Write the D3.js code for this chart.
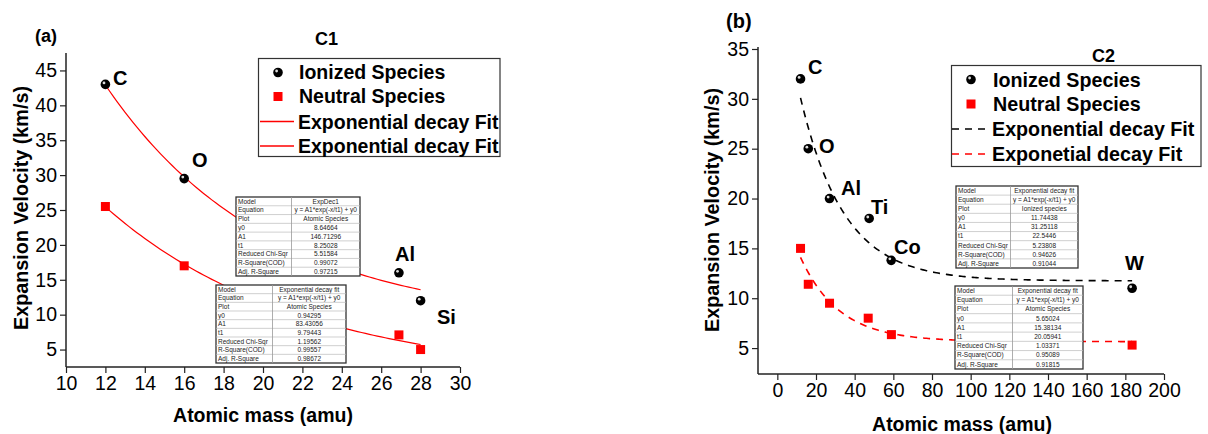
<!DOCTYPE html>
<html>
<head>
<meta charset="utf-8">
<script src="https://cdn.jsdelivr.net/npm/d3@7"></script>
<style>
body { margin: 0; background: #fff; }
svg { font-family: "Liberation Sans", Arial, sans-serif; }
</style>
</head>
<body>
<svg id="chart" width="1208" height="434"></svg>
<script>
// ---- data ----
var c1Ionized = [
    { name: "C", mass: 12, v: 43 },
    { name: "O", mass: 16, v: 29.5 },
    { name: "Al", mass: 26.9, v: 16 },
    { name: "Si", mass: 28, v: 12 }
];
var c1Neutral = [
    { mass: 12, v: 25.5 },
    { mass: 16, v: 17 },
    { mass: 26.9, v: 7.1 },
    { mass: 28, v: 5 }
];
var c2Ionized = [
    { name: "C", mass: 12, v: 32 },
    { name: "O", mass: 16, v: 25 },
    { name: "Al", mass: 27, v: 20 },
    { name: "Ti", mass: 47.5, v: 18 },
    { name: "Co", mass: 58.9, v: 13.8 },
    { name: "W", mass: 183.5, v: 11 }
];
var c2Neutral = [
    { mass: 12, v: 15 },
    { mass: 16, v: 11.4 },
    { mass: 27, v: 9.5 },
    { mass: 47, v: 8 },
    { mass: 59, v: 6.35 },
    { mass: 183.5, v: 5.3 }
];

// fit parameters [y0, A1, t1] as printed in the tables
var c1IonFit = [8.64664, 146.71296, 8.25028];
var c1NeuFit = [0.94295, 83.43056, 9.79443];
var c2IonFit = [11.74438, 31.25118, 22.5446];
var c2NeuFit = [5.65024, 15.38134, 20.05941];

var eqText = "y = A1*exp(-x/t1) + y0";
var rowNames = ["Model", "Equation", "Plot", "y0", "A1", "t1", "Reduced Chi-Sqr", "R-Square(COD)", "Adj. R-Square"];
var table1a = ["ExpDec1", eqText, "Atomic Species", "8.64664", "146.71296", "8.25028", "5.51584", "0.99072", "0.97215"];
var table1b = ["Exponential decay fit", eqText, "Atomic Species", "0.94295", "83.43056", "9.79443", "1.19562", "0.99557", "0.98672"];
var table2a = ["Exponential decay fit", eqText, "Ionized species", "11.74438", "31.25118", "22.5446", "5.23808", "0.94626", "0.91044"];
var table2b = ["Exponential decay fit", eqText, "Atomic Species", "5.65024", "15.38134", "20.05941", "1.03371", "0.95089", "0.91815"];

var svg = d3.select("#chart");
var axisColor = "#222";

function expDec(p) {
    return function (x) { return p[0] + p[1] * Math.exp(-x / p[2]); };
}

function drawAxes(g, x, y, xMajor, xMinor, yMajor, yMinor) {
    var xr = x.range(), yr = y.range();
    var ax = g.append("g").attr("transform", "translate(0," + yr[0] + ")");
    ax.call(d3.axisBottom(x).tickValues(xMinor).tickSize(3).tickFormat(""));
    ax.call(d3.axisBottom(x).tickValues(xMajor).tickSize(6).tickSizeOuter(0).tickPadding(3));
    var ay = g.append("g").attr("transform", "translate(" + xr[0] + ",0)");
    ay.call(d3.axisLeft(y).tickValues(yMinor).tickSize(3).tickFormat(""));
    ay.call(d3.axisLeft(y).tickValues(yMajor).tickSize(6).tickSizeOuter(0).tickPadding(3));
    g.selectAll(".domain").remove();
    g.selectAll(".tick line").attr("stroke", axisColor).attr("stroke-width", 1.2);
    g.selectAll(".tick text").attr("font-size", 19.5).attr("fill", "#000")
        .attr("font-family", "Liberation Sans, Arial, sans-serif");
    g.append("line").attr("x1", xr[0]).attr("x2", xr[1]).attr("y1", yr[0]).attr("y2", yr[0])
        .attr("stroke", axisColor).attr("stroke-width", 1.5);
    g.append("line").attr("x1", xr[0]).attr("x2", xr[0]).attr("y1", yr[0]).attr("y2", yr[1])
        .attr("stroke", axisColor).attr("stroke-width", 1.5);
}

function ball(g, cx, cy) {
    g.append("circle").attr("cx", cx).attr("cy", cy).attr("r", 4.8).attr("fill", "#000");
    g.append("circle").attr("cx", cx - 1.4).attr("cy", cy - 1.5).attr("r", 1.4).attr("fill", "#ddd");
}

function square(g, cx, cy) {
    g.append("rect").attr("x", cx - 4.5).attr("y", cy - 4.5).attr("width", 9).attr("height", 9).attr("fill", "#f00");
}

function drawTable(g, x0, y0, w, h, split, values) {
    var rh = h / rowNames.length;
    var t = g.append("g");
    t.append("rect").attr("x", x0).attr("y", y0).attr("width", w).attr("height", h)
        .attr("fill", "#fff").attr("stroke", "#333").attr("stroke-width", 1.3);
    rowNames.forEach(function (n, i) {
        if (i > 0) {
            t.append("line").attr("x1", x0).attr("x2", x0 + w)
                .attr("y1", y0 + i * rh).attr("y2", y0 + i * rh)
                .attr("stroke", "#bbb").attr("stroke-width", 0.7);
        }
        t.append("text").attr("x", x0 + 2).attr("y", y0 + i * rh + rh / 2 + 2.3)
            .attr("font-size", 6.5).attr("fill", "#222").text(n);
        t.append("text").attr("x", split + (x0 + w - split) / 2)
            .attr("y", y0 + i * rh + rh / 2 + 2.3)
            .attr("text-anchor", "middle").attr("font-size", 6.5).attr("fill", "#222").text(values[i]);
    });
    t.append("line").attr("x1", split).attr("x2", split).attr("y1", y0).attr("y2", y0 + h)
        .attr("stroke", "#999").attr("stroke-width", 0.8);
}

function boldText(g, x, y, txt, size, anchor) {
    return g.append("text").attr("x", x).attr("y", y).attr("font-size", size)
        .attr("font-weight", "bold").attr("text-anchor", anchor || "start").attr("fill", "#000").text(txt);
}

// ================= panel (a) =================
var ga = svg.append("g");
var xa = d3.scaleLinear().domain([10, 30]).range([66, 460]);
var ya = d3.scaleLinear().domain([2.5, 47.5]).range([367, 53]);
drawAxes(ga, xa, ya, d3.range(10, 31, 2), d3.range(10, 31, 1), d3.range(5, 46, 5), d3.range(2.5, 48, 2.5));

var lineA = function (p, lo, hi) {
    var f = expDec(p);
    var xs = d3.range(lo, hi + 0.001, (hi - lo) / 80);
    return d3.line().x(function (d) { return xa(d); }).y(function (d) { return ya(f(d)); })(xs);
};
ga.append("path").attr("d", lineA(c1IonFit, 12, 28)).attr("fill", "none").attr("stroke", "#f00").attr("stroke-width", 1.2);
ga.append("path").attr("d", lineA(c1NeuFit, 12, 28)).attr("fill", "none").attr("stroke", "#f00").attr("stroke-width", 1.2);

drawTable(ga, 236, 197, 124, 79, 291.5, table1a);
drawTable(ga, 216, 285, 130, 78, 272.5, table1b);

c1Ionized.forEach(function (d) { ball(ga, xa(d.mass), ya(d.v)); });
c1Neutral.forEach(function (d) { square(ga, xa(d.mass), ya(d.v)); });

var labA = { C: [113, 85], O: [192, 167], Al: [395, 261], Si: [437, 324] };
c1Ionized.forEach(function (d) { boldText(ga, labA[d.name][0], labA[d.name][1], d.name, 20); });

boldText(ga, 35, 42, "(a)", 18);
boldText(ga, 315, 45, "C1", 18);
boldText(ga, 263, 422, "Atomic mass (amu)", 19.5, "middle");
boldText(ga, 0, 0, "Expansion Velocity (km/s)", 19.8, "middle")
    .attr("transform", "translate(28,208) rotate(-90)");

// legend (a)
var la = ga.append("g");
la.append("rect").attr("x", 258.5).attr("y", 58.5).attr("width", 241.5).attr("height", 98)
    .attr("fill", "#fff").attr("stroke", "#333").attr("stroke-width", 1.2);
ball(la, 278, 72.5);
square(la, 278, 96.5);
la.append("line").attr("x1", 260).attr("x2", 294).attr("y1", 121.5).attr("y2", 121.5).attr("stroke", "#f00").attr("stroke-width", 1.4);
la.append("line").attr("x1", 260).attr("x2", 294).attr("y1", 146).attr("y2", 146).attr("stroke", "#f00").attr("stroke-width", 1.4);
boldText(la, 299, 79, "Ionized Species", 19.5);
boldText(la, 299, 103, "Neutral Species", 19.5);
boldText(la, 298, 128.5, "Exponential decay Fit", 19.5);
boldText(la, 298, 153, "Exponential decay Fit", 19.5);

// ================= panel (b) =================
var gb = svg.append("g");
var xb = d3.scaleLinear().domain([-10, 200]).range([758, 1164]);
var yb = d3.scaleLinear().domain([2.4, 35.2]).range([374, 47]);
drawAxes(gb, xb, yb, d3.range(0, 201, 20), d3.range(-10, 201, 10), d3.range(5, 36, 5), d3.range(2.5, 35.1, 2.5));

var lineB = function (p, lo, hi) {
    var f = expDec(p);
    var xs = d3.range(lo, hi + 0.001, (hi - lo) / 200);
    return d3.line().x(function (d) { return xb(d); }).y(function (d) { return yb(f(d)); })(xs);
};
gb.append("path").attr("d", lineB(c2IonFit, 12, 183.5)).attr("fill", "none").attr("stroke", "#000")
    .attr("stroke-width", 1.6).attr("stroke-dasharray", "7,6");
gb.append("path").attr("d", lineB(c2NeuFit, 12, 183.5)).attr("fill", "none").attr("stroke", "#f00")
    .attr("stroke-width", 1.6).attr("stroke-dasharray", "7,6");

drawTable(gb, 956, 186, 122, 82, 1010.5, table2a);
drawTable(gb, 955, 286, 128, 83, 1012.5, table2b);

c2Ionized.forEach(function (d) { ball(gb, xb(d.mass), yb(d.v)); });
c2Neutral.forEach(function (d) { square(gb, xb(d.mass), yb(d.v)); });

var labB = { C: [808, 74], O: [819, 153], Al: [841, 195], Ti: [871, 214], Co: [894, 254], W: [1125, 270] };
c2Ionized.forEach(function (d) { boldText(gb, labB[d.name][0], labB[d.name][1], d.name, 20); });

boldText(gb, 726, 28, "(b)", 20);
boldText(gb, 1092, 62, "C2", 18);
boldText(gb, 962, 431, "Atomic mass (amu)", 19.5, "middle");
boldText(gb, 0, 0, "Expansion Velocity (km/s)", 19.8, "middle")
    .attr("transform", "translate(719,210) rotate(-90)");

// legend (b)
var lb = gb.append("g");
lb.append("rect").attr("x", 951.5).attr("y", 65.5).attr("width", 249.5).attr("height", 101)
    .attr("fill", "#fff").attr("stroke", "#333").attr("stroke-width", 1.2);
ball(lb, 971, 79.5);
square(lb, 971, 104);
lb.append("line").attr("x1", 952).attr("x2", 988).attr("y1", 129).attr("y2", 129).attr("stroke", "#000")
    .attr("stroke-width", 1.6).attr("stroke-dasharray", "7,6");
lb.append("line").attr("x1", 952).attr("x2", 988).attr("y1", 154).attr("y2", 154).attr("stroke", "#f00")
    .attr("stroke-width", 1.6).attr("stroke-dasharray", "7,6");
boldText(lb, 993, 86.5, "Ionized Species", 19.7);
boldText(lb, 993, 111, "Neutral Species", 19.7);
boldText(lb, 992, 136, "Exponential decay Fit", 19.7);
boldText(lb, 992, 161, "Exponetial decay Fit", 19.7);
</script>
</body>
</html>
